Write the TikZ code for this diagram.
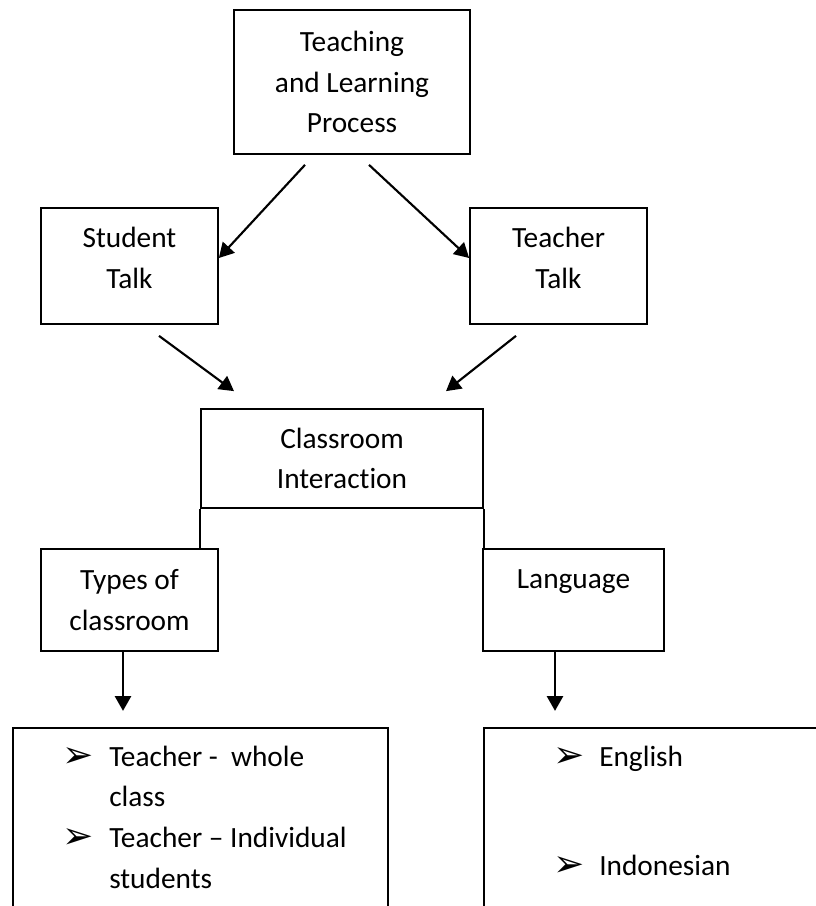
\documentclass[tikz,border=0pt]{standalone}
\usepackage{fontspec}
\setmainfont{Carlito}[Ligatures={NoCommon}]
\newfontfamily\dejavu{DejaVu Sans}
\usetikzlibrary{calc,arrows.meta}
\newcommand{\bul}{{\dejavu\fontsize{28pt}{28pt}\selectfont\raisebox{-1pt}{➢}}}
\tikzset{
  txt/.style={font=\fontsize{22pt}{30.5pt}\selectfont},
  box/.style={draw,line width=1.3pt,align=center,inner sep=0pt},
  arr/.style={line width=1.6pt,-{Triangle[width=12pt,length=11pt]}}
}

\begin{document}
\begin{tikzpicture}[x=0.75pt,y=-0.75pt,every node/.style={txt}]
  \clip (0,0) rectangle (816,906);
  \fill[white] (0,0) rectangle (816,906);
  % boxes
  \node[box,minimum width=177pt,minimum height=108pt] (proc) at (352,82) {Teaching\\and Learning\\Process};
  \node[box,minimum width=132.75pt,minimum height=87pt] (stud) at (129.5,266) {Student\\Talk\\[-27.5pt]\strut};
  \node[box,minimum width=132.75pt,minimum height=87pt] (teach) at (558.5,266) {Teacher\\Talk\\[-27.5pt]\strut};
  \node[box,minimum width=211.5pt,minimum height=74.25pt] (ci) at (342,458.5) {Classroom\\Interaction};
  \node[box,minimum width=132.75pt,minimum height=76.5pt] (types) at (129.5,600) {Types of\\classroom};
  \node[box,minimum width=135.75pt,minimum height=76.5pt] (lang) at (573.5,600) {Language\\[-8pt]\strut};
  \node[box,anchor=north west,minimum width=281.25pt,minimum height=190pt] (tbox) at (12,727) {};
  \node[box,anchor=north west,minimum width=300pt,minimum height=190pt] (lbox) at (483,727) {};
  % lists
  \node[anchor=base west,inner sep=0pt] (tlist) at (62,766)
    {\begin{tabular}[t]{@{}p{35.25pt}@{}l@{}}
      \bul & Teacher -\ \ whole\\
           & class\\
      \bul & Teacher – Individual\\
           & students
    \end{tabular}};
  \node[anchor=base west,inner sep=0pt] (llist) at (553,766)
    {\begin{tabular}[t]{@{}p{34.5pt}@{}l@{}}
      \bul & English\\[51.25pt]
      \bul & Indonesian
    \end{tabular}};
  % connectors
  \draw[arr] ($(proc.south)+(-47,10)$) -- ($(stud.east)+(0,-8)$);
  \draw[arr] ($(proc.south)+(17,10)$) -- ($(teach.west)+(0,-8)$);
  \draw[arr] ($(stud.south)+(29.5,11)$) -- ($(ci.north)+(-108,-17)$);
  \draw[arr] ($(teach.south)+(-42.5,11)$) -- ($(ci.north)+(104,-17)$);
  \draw[line width=1.3pt] (ci.south west) -- (ci.south west |- types.north);
  \draw[line width=1.3pt] (ci.south east) -- (ci.south east |- lang.north);
  \draw[arr] ($(types.south)+(-6.5,0)$) -- ++(0,59);
  \draw[arr] ($(lang.south)+(-18.5,0)$) -- ++(0,59);
\end{tikzpicture}
\end{document}
